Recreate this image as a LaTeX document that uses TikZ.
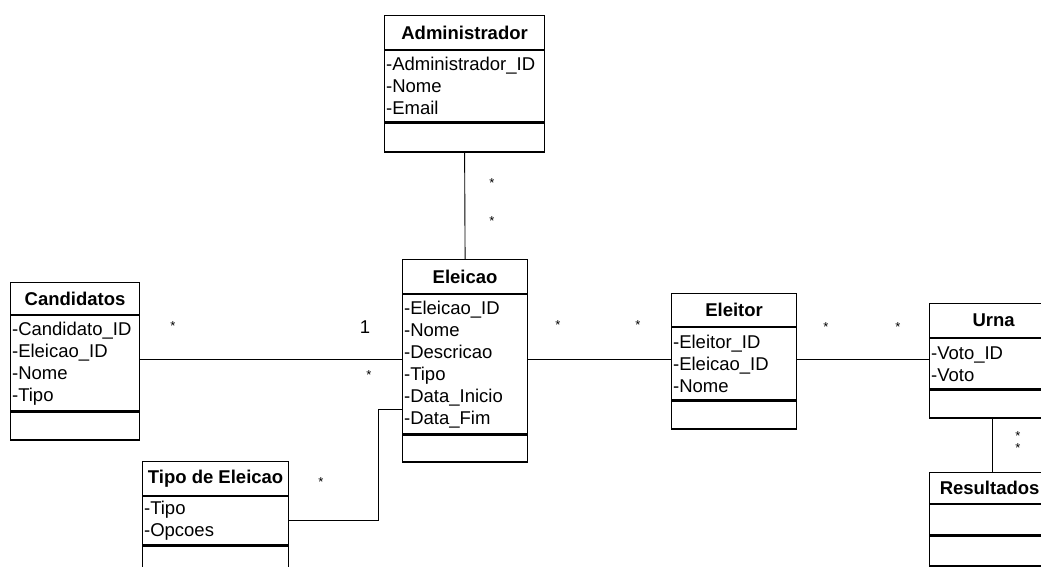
\documentclass[tikz,border=0pt]{standalone}
\usepackage{fontspec}
\setmainfont{Liberation Sans}
\usetikzlibrary{positioning}

\begin{document}
\begin{tikzpicture}[x=1pt, y=-1pt,
  box/.style={draw, line width=1.2pt, inner xsep=1.5pt, inner ysep=0pt, font=\fontsize{18.5}{22}\selectfont},
  head/.style={box, font=\fontsize{18.5}{22}\selectfont\bfseries},
  attr/.style={box, align=left},
  link/.style={line width=0.9pt},
  mult/.style={anchor=base, inner sep=0pt, font=\fontsize{13}{13}\selectfont}]

\useasboundingbox (0,0) rectangle (1041,567);
\clip (0,0) rectangle (1041,567);

% Administrador
\node[head, anchor=north west, minimum width=160, minimum height=34] (adm) at (384,15) {Administrador};
\node[attr, text width=157, minimum height=71, below=0pt of adm] (adm-a) {-Administrador\_ID\\-Nome\\-Email};
\node[box, minimum width=160, minimum height=29, below=0pt of adm-a] (adm-m) {};

% Eleicao
\node[head, anchor=north west, minimum width=125, minimum height=34] (ele) at (402,259) {Eleicao};
\node[attr, text width=122, minimum height=139, below=0pt of ele] (ele-a) {-Eleicao\_ID\\-Nome\\-Descricao\\-Tipo\\-Data\_Inicio\\-Data\_Fim};
\node[box, minimum width=125, minimum height=27, below=0pt of ele-a] (ele-m) {};

% Candidatos
\node[head, anchor=north west, minimum width=129, minimum height=32] (cand) at (10,282) {Candidatos};
\node[attr, text width=126, minimum height=95, below=0pt of cand] (cand-a) {-Candidato\_ID\\-Eleicao\_ID\\-Nome\\-Tipo};
\node[box, minimum width=129, minimum height=28, below=0pt of cand-a] (cand-m) {};

% Eleitor
\node[head, anchor=north west, minimum width=125, minimum height=33] (elr) at (671,293) {Eleitor};
\node[attr, text width=122, minimum height=72, below=0pt of elr] (elr-a) {-Eleitor\_ID\\-Eleicao\_ID\\-Nome};
\node[box, minimum width=125, minimum height=28, below=0pt of elr-a] (elr-m) {};

% Urna
\node[head, anchor=north west, minimum width=128, minimum height=34] (urna) at (929,303) {Urna};
\node[attr, text width=125, minimum height=50, below=0pt of urna] (urna-a) {-Voto\_ID\\-Voto};
\node[box, minimum width=128, minimum height=28, below=0pt of urna-a] (urna-m) {};

% Resultados
\node[head, anchor=north west, minimum width=120, minimum height=31] (res) at (929,472) {Resultados};
\node[box, minimum width=120, minimum height=30, below=0pt of res] (res-a) {};
\node[box, minimum width=120, minimum height=30, below=0pt of res-a] (res-m) {};

% Tipo de Eleicao
\node[head, anchor=north west, minimum width=146, minimum height=34] (tipo) at (142,461) {Tipo de Eleicao};
\node[attr, text width=143, minimum height=48, below=0pt of tipo] (tipo-a) {-Tipo\\-Opcoes};
\node[box, minimum width=146, minimum height=28, below=0pt of tipo-a] (tipo-m) {};

% connections
\coordinate (row) at (0,359);
\coordinate (bend) at (378,409);
\coordinate (drop) at (992,0);

\draw[link] (adm-m.south) -- (ele.north);
\draw[link] (cand-a.east |- row) -- (ele-a.west |- row);
\draw[link] (ele-a.east |- row) -- (elr-a.west |- row);
\draw[link] (elr-a.east |- row) -- (urna-a.west |- row);
\draw[link] (drop |- urna-m.south) -- (drop |- res.north);
\draw[link] (tipo-a.east) -| (bend) -- (bend -| ele-a.west);

% multiplicities
\foreach \x/\y [count=\i] in {173/330.5, 369/379.5, 492/187.5, 492/225.5, 558/329.5, 638/329.5, 826/331.5, 898/331.5, 321/486.5, 1018/440.5, 1018/452.5}
  \node[mult] (m\i) at (\x,\y) {*};
\node[mult, font=\fontsize{18.5}{22}\selectfont] (one) at (365,333) {1};

\end{tikzpicture}
\end{document}
